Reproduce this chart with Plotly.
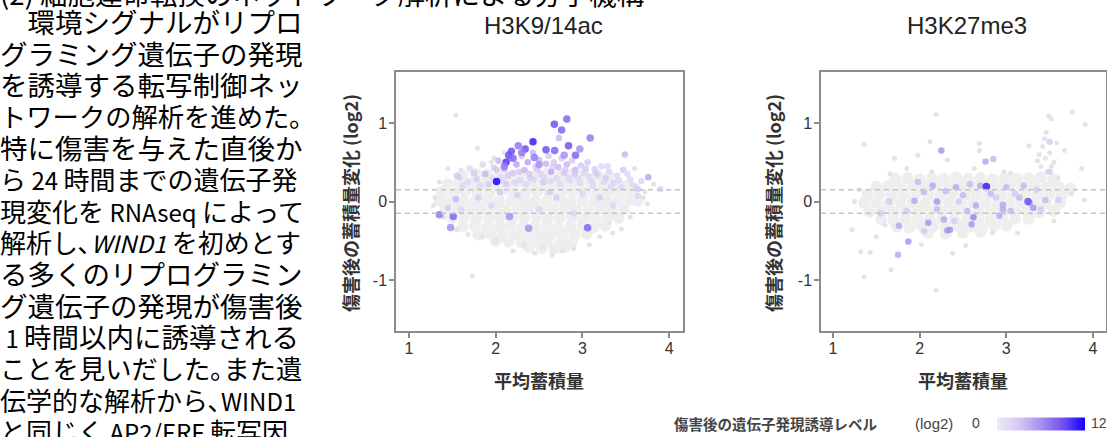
import plotly.graph_objects as go

W, H = 1107, 437

# ---------------- data ----------------
TICKS_X = [1, 2, 3, 4]
TICKS_Y = [-1, 0, 1]
TICK_Y_TEXT = ["-1", "0", "1"]
THRESH = [-0.15, 0.15]
TITLES = ["H3K9/14ac", "H3K27me3"]
X_TITLE = "平均蓄積量"
Y_TITLE = "傷害後の蓄積量変化 (log2)"
CBAR_TITLE = "傷害後の遺伝子発現誘導レベル"
CBAR_UNIT = "(log2)"
CBAR_MIN, CBAR_MAX = 0, 12

# {L}...{E} marks a half-width (Latin) run
BODY_LINES = [
    "(2) 細胞運命転換のネットワーク解析による分子機構",
    "　環境シグナルがリプロ",
    "グラミング遺伝子の発現",
    "を誘導する転写制御ネッ",
    "トワークの解析を進めた｡",
    "特に傷害を与えた直後か",
    "ら{L} 24 {E}時間までの遺伝子発",
    "現変化を{L} RNAseq {E}によって",
    "解析し､{L}<i>WIND1</i> {E}を初めとす",
    "る多くのリプログラミン",
    "グ遺伝子の発現が傷害後",
    "{L} 1 {E}時間以内に誘導される",
    "ことを見いだした｡また遺",
    "伝学的な解析から､{L}WIND1{E}",
    "と同じく{L} AP2/ERF {E}転写因",
]
# per-line type size (text is justified to the column width in the original)
BODY_SIZES = [27.5, 27.5, 27.5, 27.5, 26.3, 27.5, 26, 26, 26, 27.5, 27.5, 27.5, 26.3, 26, 26]

# H3K9/14ac : dense grey cloud
L_core_x = [1.62, 1.77, 1.90, 2.05, 2.18, 2.33, 2.47, 2.60, 2.75, 2.88, 3.02, 3.17, 3.30,
            1.45, 1.58, 1.72, 1.86, 2.00, 2.13, 2.27, 2.41, 2.55, 2.68, 2.82, 2.96, 3.10, 3.24, 3.38, 3.50,
            1.38, 1.52, 1.65, 1.79, 1.93, 2.07, 2.20, 2.34, 2.48, 2.62, 2.75, 2.89, 3.03, 3.17, 3.30, 3.44, 3.58,
            1.36, 1.49, 1.63, 1.77, 1.90, 2.04, 2.18, 2.32, 2.45, 2.59, 2.73, 2.86, 3.00, 3.14, 3.28, 3.41, 3.55, 3.64,
            1.42, 1.56, 1.70, 1.83, 1.97, 2.11, 2.25, 2.38, 2.52, 2.66, 2.80, 2.93, 3.07, 3.21, 3.34, 3.48,
            1.50, 1.64, 1.78, 1.92, 2.05, 2.19, 2.33, 2.47, 2.60, 2.74, 2.88, 3.02, 3.15, 3.29, 3.42,
            1.62, 1.76, 1.90, 2.04, 2.17, 2.31, 2.45, 2.59, 2.72, 2.86, 3.00, 3.13, 3.26,
            1.80, 1.94, 2.08, 2.22, 2.36, 2.50, 2.63, 2.77, 2.91, 3.05,
            2.00, 2.15, 2.30, 2.45, 2.60, 2.75, 2.88,
            2.38, 2.53, 2.68, 2.80]
L_core_y = [0.33, 0.35, 0.34, 0.36, 0.33, 0.35, 0.34, 0.36, 0.33, 0.35, 0.34, 0.33, 0.32,
            0.22, 0.24, 0.23, 0.22, 0.24, 0.23, 0.25, 0.22, 0.24, 0.23, 0.22, 0.24, 0.23, 0.22, 0.21, 0.20,
            0.12, 0.11, 0.13, 0.12, 0.11, 0.13, 0.12, 0.11, 0.13, 0.12, 0.11, 0.13, 0.12, 0.11, 0.12, 0.11, 0.10,
            0.01, 0.02, 0.00, 0.01, 0.02, 0.00, 0.01, 0.02, 0.00, 0.01, 0.02, 0.00, 0.01, 0.02, 0.00, 0.01, 0.02, 0.01,
            -0.10, -0.09, -0.11, -0.10, -0.09, -0.11, -0.10, -0.09, -0.11, -0.10, -0.09, -0.11, -0.10, -0.09, -0.11, -0.10,
            -0.21, -0.20, -0.22, -0.21, -0.20, -0.22, -0.21, -0.20, -0.22, -0.21, -0.20, -0.22, -0.21, -0.20, -0.21,
            -0.32, -0.31, -0.33, -0.32, -0.31, -0.33, -0.32, -0.31, -0.33, -0.32, -0.31, -0.33, -0.31,
            -0.42, -0.41, -0.43, -0.42, -0.41, -0.43, -0.42, -0.41, -0.43, -0.41,
            -0.50, -0.51, -0.52, -0.51, -0.50, -0.52, -0.51,
            -0.58, -0.59, -0.60, -0.58]
# scattered grey outliers
L_edge_x = [1.54, 1.79, 1.73, 3.08, 2.77, 2.54, 2.33, 2.00, 3.31, 1.55, 1.68, 1.30, 1.28, 3.70, 3.75,
            3.62, 3.45, 1.45, 1.35, 2.10, 1.95, 3.60, 3.82, 2.90, 2.20, 1.85, 3.20, 1.40, 3.55, 2.65,
            1.98, 3.35, 2.45, 1.60, 3.72]
L_edge_y = [1.10, 0.68, -0.95, -0.55, -0.63, -0.57, -0.55, -0.50, -0.27, -0.36, -0.42, 0.05, -0.05, 0.05, -0.03,
            0.20, -0.35, 0.42, 0.25, 0.62, 0.50, 0.42, 0.22, -0.60, -0.63, -0.45, -0.45, -0.20, -0.20, -0.68,
            0.55, -0.40, -0.66, 0.40, 0.12]
# weakly induced genes
L_low_x = [1.55, 1.62, 1.70, 1.78, 1.85, 1.88, 1.92, 1.98, 2.03, 2.06, 2.10, 2.12, 2.17, 2.20, 2.24, 2.28,
           2.30, 2.33, 2.37, 2.40, 2.43, 2.46, 2.50, 2.52, 2.55, 2.58, 2.61, 2.64, 2.67, 2.70, 2.72, 2.76,
           2.79, 2.82, 2.86, 2.88, 2.92, 2.95, 2.98, 3.02, 3.06, 3.10, 3.14, 3.18, 3.22, 3.27, 3.31, 3.36,
           3.40, 3.47, 3.45, 3.55, 3.64, 3.90, 3.64, 1.54, 1.45, 1.60, 1.80, 1.95, 2.25, 2.50, 2.70, 2.90,
           3.20, 3.35, 2.62, 2.05, 3.00, 2.73, 3.49, 1.58, 3.76,
           1.68, 1.75, 1.82, 1.96, 2.01, 2.08, 2.14, 2.22, 2.27, 2.35, 2.39, 2.44, 2.48, 2.56, 2.63, 2.66,
           2.74, 2.80, 2.84, 2.91, 2.97, 3.04, 3.08, 3.12, 3.16, 3.25, 3.29, 3.33, 3.42, 3.52, 3.58, 3.68]
L_low_y = [0.33, 0.20, 0.42, 0.28, 0.47, 0.35, 0.22, 0.43, 0.52, 0.31, 0.42, 0.22, 0.55, 0.36, 0.47, 0.27,
           0.58, 0.40, 0.50, 0.30, 0.62, 0.44, 0.53, 0.35, 0.25, 0.48, 0.58, 0.38, 0.50, 0.30, 0.44, 0.55,
           0.36, 0.47, 0.27, 0.52, 0.40, 0.30, 0.46, 0.36, 0.50, 0.26, 0.41, 0.33, 0.45, 0.30, 0.38, 0.24,
           0.33, 0.40, 0.18, 0.28, 0.16, 0.16, 0.07, 0.03, -0.08, -0.10, 0.05, -0.05, 0.08, -0.10, 0.05, -0.15,
           0.05, -0.05, 0.12, 0.12, 0.10, 0.81, 0.60, 0.31, 0.31,
           0.25, 0.36, 0.20, 0.30, 0.40, 0.27, 0.33, 0.24, 0.38, 0.22, 0.35, 0.28, 0.41, 0.31, 0.26, 0.44,
           0.22, 0.40, 0.30, 0.35, 0.24, 0.42, 0.32, 0.20, 0.36, 0.25, 0.45, 0.19, 0.27, 0.35, 0.21, 0.26]
L_low_v = [3, 2, 2, 3, 2, 4, 3, 3, 4, 2, 5, 3, 4, 3, 5, 2,
           3, 4, 5, 3, 4, 3, 4, 2, 3, 4, 3, 5, 3, 2, 4, 3,
           3, 4, 2, 3, 4, 2, 3, 2, 3, 2, 3, 2, 2, 3, 2, 2,
           2, 3, 2, 2, 3, 2, 2, 4, 3, 2, 3, 2, 3, 2, 3, 2,
           3, 2, 3, 3, 2, 4, 4, 3, 5,
           2, 3, 2, 2, 3, 2, 3, 2, 3, 2, 3, 2, 3, 2, 2, 3,
           2, 3, 2, 3, 2, 3, 2, 2, 3, 2, 2, 2, 2, 2, 2, 2]
# strongly induced genes
L_high_x = [2.82, 2.676, 2.76, 2.43, 2.84, 3.09, 2.58, 2.68, 2.34, 2.26, 2.18, 2.15, 2.12, 2.92, 2.97,
            2.79, 2.445, 2.01, 1.51, 1.35, 1.48, 3.06, 2.16, 2.38, 2.20, 2.30, 2.10, 2.50]
L_high_y = [1.05, 0.985, 0.91, 0.76, 0.71, 0.81, 0.66, 0.65, 0.67, 0.71, 0.64, 0.59, 0.50, 0.59, 0.67,
            0.59, 0.56, 0.255, -0.19, -0.17, -0.33, -0.335, -0.19, -0.34, 0.55, 0.62, 0.45, 0.47]
L_high_v = [8, 9, 8, 11, 9, 7, 9, 8, 9, 7, 9, 9, 10, 8, 6,
            6, 7, 12, 8, 7, 6, 8, 6, 6, 8, 7, 7, 6]

# H3K27me3 : dense grey cloud
R_core_x = [1.72, 1.86, 2.00, 2.14, 2.28, 2.42, 2.56, 2.70, 2.84, 2.98, 3.12, 3.26, 3.40, 3.54,
            1.50, 1.64, 1.78, 1.92, 2.06, 2.20, 2.34, 2.48, 2.62, 2.76, 2.90, 3.04, 3.18, 3.32, 3.46, 3.60, 3.74,
            1.40, 1.54, 1.68, 1.82, 1.96, 2.10, 2.24, 2.38, 2.52, 2.66, 2.80, 2.94, 3.08, 3.22, 3.36, 3.50, 3.64,
            1.36, 1.50, 1.64, 1.78, 1.92, 2.06, 2.20, 2.34, 2.48, 2.62, 2.76, 2.90, 3.04, 3.18, 3.32, 3.46, 3.62,
            1.42, 1.56, 1.70, 1.84, 1.98, 2.12, 2.26, 2.40, 2.54, 2.68, 2.82, 2.96, 3.10, 3.24, 3.38, 3.55,
            1.56, 1.70, 1.84, 1.98, 2.12, 2.26, 2.40, 2.54, 2.68, 2.82, 2.96, 3.10, 3.26,
            1.74, 1.88, 2.02, 2.16, 2.30, 2.44, 2.58, 2.72, 2.86, 3.00,
            2.10, 2.30, 2.50, 2.70]
R_core_y = [0.29, 0.30, 0.28, 0.30, 0.29, 0.31, 0.29, 0.30, 0.28, 0.30, 0.29, 0.30, 0.31, 0.28,
            0.19, 0.20, 0.18, 0.20, 0.19, 0.21, 0.19, 0.20, 0.18, 0.20, 0.19, 0.21, 0.19, 0.20, 0.18, 0.19, 0.17,
            0.09, 0.10, 0.08, 0.09, 0.10, 0.08, 0.09, 0.10, 0.08, 0.09, 0.10, 0.08, 0.09, 0.10, 0.08, 0.09, 0.08,
            -0.02, -0.01, -0.03, -0.02, -0.01, -0.03, -0.02, -0.01, -0.03, -0.02, -0.01, -0.03, -0.02, -0.01, -0.03, -0.02, -0.02,
            -0.13, -0.12, -0.14, -0.13, -0.12, -0.14, -0.13, -0.12, -0.14, -0.13, -0.12, -0.14, -0.13, -0.12, -0.14, -0.12,
            -0.23, -0.24, -0.22, -0.23, -0.24, -0.22, -0.23, -0.24, -0.22, -0.23, -0.24, -0.22, -0.22,
            -0.32, -0.33, -0.31, -0.32, -0.33, -0.31, -0.32, -0.33, -0.31, -0.31,
            -0.40, -0.41, -0.40, -0.39]
R_edge_x = [2.19, 3.76, 3.91, 3.49, 3.52, 1.36, 2.12, 2.69, 2.69, 3.26, 3.46, 3.67, 1.98, 1.71, 2.32,
            3.87, 1.66, 1.85, 2.14, 2.63, 2.97, 3.05, 1.22, 1.32, 1.43, 1.36, 1.67, 2.19, 2.38, 2.53,
            2.02, 2.84, 3.13, 3.40, 3.45, 3.50, 3.42, 3.55, 3.47, 3.58, 3.38, 1.50, 1.60, 3.55, 3.75,
            3.90, 1.25, 1.30, 3.44, 3.52, 3.36, 3.60]
R_edge_y = [1.11, 1.14, 0.98, 1.09, 1.05, 0.73, 0.76, 0.74, 0.65, 0.71, 0.88, 0.65, 0.59, 0.55, 0.53,
            0.42, 0.35, 0.42, 0.38, 0.42, 0.38, 0.36, -0.36, -0.64, -0.65, -0.96, -0.87, -1.13, -0.66, -0.56,
            -0.55, -0.40, -0.40, 0.45, 0.55, 0.62, 0.70, 0.50, 0.38, 0.75, 0.60, -0.45, -0.30, -0.25, 0.10,
            0.02, 0.00, 0.15, 0.80, 0.45, 0.52, 0.30]
R_low_x = [2.25, 2.76, 2.85, 3.50, 3.50, 1.75, 1.87, 2.32, 2.35, 2.60, 2.62, 2.10, 1.76, 2.28, 2.96,
           2.96, 3.31, 2.20, 1.94, 2.92, 3.15, 3.45, 3.60, 2.45, 1.85, 2.05, 2.15, 2.30, 2.42, 2.50,
           2.70, 2.82, 3.00, 3.10, 3.20, 3.35, 2.55, 2.20, 1.65, 1.55, 2.65, 3.05, 2.40, 3.40, 2.05,
           1.98, 2.58, 3.27, 2.88]
R_low_y = [0.65, 0.51, 0.54, 0.76, 0.38, -0.68, -0.51, -0.37, -0.36, -0.29, -0.20, -0.27, -0.31, -0.23, -0.04,
           -0.10, -0.08, 0.00, 0.01, -0.18, 0.05, 0.02, 0.02, 0.00, -0.12, 0.12, 0.20, 0.13, 0.18, 0.08,
           0.20, 0.10, 0.18, 0.10, 0.20, 0.15, -0.12, -0.10, 0.00, -0.15, -0.05, -0.12, -0.25, -0.10, -0.38,
           0.25, 0.22, -0.02, 0.05]
R_low_v = [6, 5, 4, 3, 3, 5, 6, 6, 6, 6, 7, 6, 5, 5, 5,
           5, 6, 6, 5, 5, 4, 4, 3, 3, 3, 4, 5, 4, 5, 4,
           5, 4, 4, 3, 4, 3, 4, 4, 3, 3, 5, 4, 3, 3, 3,
           4, 4, 5, 3]
R_high_x = [2.77, 3.25]
R_high_y = [0.19, 0.00]
R_high_v = [11, 9]

# ---------------- figure ----------------
def PX(p):
    return p / W


def PY(p):
    return 1 - p / H


COLORSCALE = [[0.0, "#eeebf6"], [0.25, "#d3c8f4"], [0.5, "#a98ff1"], [0.75, "#7150f2"], [1.0, "#1400ff"]]
GREY_CORE = "#eeeeee"
GREY_EDGE = "#e4e4e4"

fig = go.Figure()


def add_panel(sfx, core_x, core_y, edge_x, edge_y, low_x, low_y, low_v, hi_x, hi_y, hi_v, showscale):
    xa, ya = "x" + sfx, "y" + sfx
    fig.add_trace(go.Scatter(x=core_x, y=core_y, mode="markers", xaxis=xa, yaxis=ya,
                             marker=dict(size=12, color=GREY_CORE, line=dict(width=0)),
                             hoverinfo="skip", showlegend=False))
    fig.add_trace(go.Scatter(x=edge_x, y=edge_y, mode="markers", xaxis=xa, yaxis=ya,
                             marker=dict(size=5, color=GREY_EDGE, line=dict(width=0)),
                             hoverinfo="skip", showlegend=False))
    fig.add_trace(go.Scatter(x=low_x, y=low_y, mode="markers", xaxis=xa, yaxis=ya,
                             marker=dict(size=6.5, color=low_v, colorscale=COLORSCALE, cmin=CBAR_MIN,
                                         cmax=CBAR_MAX, opacity=0.8, line=dict(width=0)),
                             showlegend=False))
    cb = None
    if showscale:
        cb = dict(orientation="h", x=PX(1041), xanchor="center", y=PY(423.5), yanchor="middle",
                  len=88, lenmode="pixels", thickness=13, thicknessmode="pixels",
                  outlinewidth=0, showticklabels=False, ticks="", xpad=0, ypad=0)
    fig.add_trace(go.Scatter(x=hi_x, y=hi_y, mode="markers", xaxis=xa, yaxis=ya,
                             marker=dict(size=7.5, color=hi_v, colorscale=COLORSCALE, cmin=CBAR_MIN,
                                         cmax=CBAR_MAX, opacity=0.85, line=dict(width=0),
                                         showscale=showscale, colorbar=cb),
                             showlegend=False))


add_panel("", L_core_x, L_core_y, L_edge_x, L_edge_y, L_low_x, L_low_y, L_low_v,
          L_high_x, L_high_y, L_high_v, True)
add_panel("2", R_core_x, R_core_y, R_edge_x, R_edge_y, R_low_x, R_low_y, R_low_v,
          R_high_x, R_high_y, R_high_v, False)

AX_COL = "#8c8c8c"
tickfont = dict(family="Liberation Sans, Arial", size=16, color="#333")
xcommon = dict(showgrid=False, zeroline=False, showline=True, mirror=True, linecolor=AX_COL, linewidth=1.5,
               ticks="outside", ticklen=5, tickwidth=1.5, tickcolor=AX_COL, tickvals=TICKS_X,
               tickfont=tickfont, ticklabelstandoff=-3)
ycommon = dict(showgrid=False, zeroline=False, showline=True, mirror=True, linecolor=AX_COL, linewidth=1.5,
               ticks="outside", ticklen=5, tickwidth=1.5, tickcolor=AX_COL, tickvals=TICKS_Y,
               ticktext=TICK_Y_TEXT, tickfont=tickfont, range=[-1.65, 1.65], ticklabelstandoff=-1)

fig.update_layout(
    width=W, height=H, margin=dict(l=0, r=0, t=0, b=0),
    paper_bgcolor="white", plot_bgcolor="white",
    xaxis=dict(domain=[PX(396), PX(683)], range=[0.85, 4.16], anchor="y", **xcommon),
    yaxis=dict(domain=[PY(331), PY(72)], anchor="x", **ycommon),
    xaxis2=dict(domain=[PX(821), PX(1106)], range=[0.862, 4.15], anchor="y2", **xcommon),
    yaxis2=dict(domain=[PY(331), PY(72)], anchor="x2", **ycommon),
)

for ref in ("", "2"):
    for t in THRESH:
        fig.add_shape(type="line", xref=f"x{ref} domain", yref=f"y{ref}", x0=0, x1=1, y0=t, y1=t,
                      line=dict(color="#c4c4c4", width=1.3, dash="5px,4px"))

ann = []
JP = "Noto Sans CJK JP"
LAT_OPEN = "<span style='font-size:24px'>"
LAT_CLOSE = "</span>"
line_y = [-7] + [21 + 31.5 * i for i in range(len(BODY_LINES) - 1)]
for txt, yy, fs in zip(BODY_LINES, line_y, BODY_SIZES):
    txt = txt.replace("{L}", LAT_OPEN).replace("{E}", LAT_CLOSE)
    ann.append(dict(text=txt, x=0, y=PY(yy), xref="paper", yref="paper", xanchor="left",
                    yanchor="middle", showarrow=False, borderpad=0, borderwidth=0,
                    font=dict(family=JP, size=fs, color="#000")))

for title, cx, ycx in ((TITLES[0], 543, 350), (TITLES[1], 967, 773)):
    ann.append(dict(text=title, x=PX(cx), y=PY(25), xref="paper", yref="paper", xanchor="center",
                    yanchor="middle", showarrow=False,
                    font=dict(family="Liberation Sans, Arial", size=24, color="#222")))
    ann.append(dict(text=X_TITLE, x=PX(cx - 4), y=PY(380), xref="paper", yref="paper", xanchor="center",
                    yanchor="middle", showarrow=False,
                    font=dict(family=JP, size=18, color="#333", weight="bold")))
    ann.append(dict(text=Y_TITLE, x=PX(ycx), y=PY(203), xref="paper", yref="paper", xanchor="center",
                    yanchor="middle", textangle=-90, showarrow=False,
                    font=dict(family=JP, size=18, color="#333", weight="bold")))

ann.append(dict(text=CBAR_TITLE, x=PX(672), y=PY(423.5), xref="paper", yref="paper", xanchor="left",
                yanchor="middle", showarrow=False, font=dict(family=JP, size=14.5, color="#444", weight="bold")))
ann.append(dict(text=CBAR_UNIT, x=PX(913), y=PY(423.5), xref="paper", yref="paper", xanchor="left",
                yanchor="middle", showarrow=False, font=dict(family="Liberation Sans, Arial", size=15, color="#444")))
ann.append(dict(text=str(CBAR_MIN), x=PX(976), y=PY(423), xref="paper", yref="paper", xanchor="center",
                yanchor="middle", showarrow=False, font=dict(family="Liberation Sans, Arial", size=14, color="#444")))
ann.append(dict(text=str(CBAR_MAX), x=PX(1089), y=PY(423), xref="paper", yref="paper", xanchor="left",
                yanchor="middle", showarrow=False, font=dict(family="Liberation Sans, Arial", size=14, color="#444")))

fig.update_layout(annotations=ann)
fig.write_html("out.html", config={"displayModeBar": False},
               post_script="document.body.style.margin='0';document.body.style.overflow='hidden';")
